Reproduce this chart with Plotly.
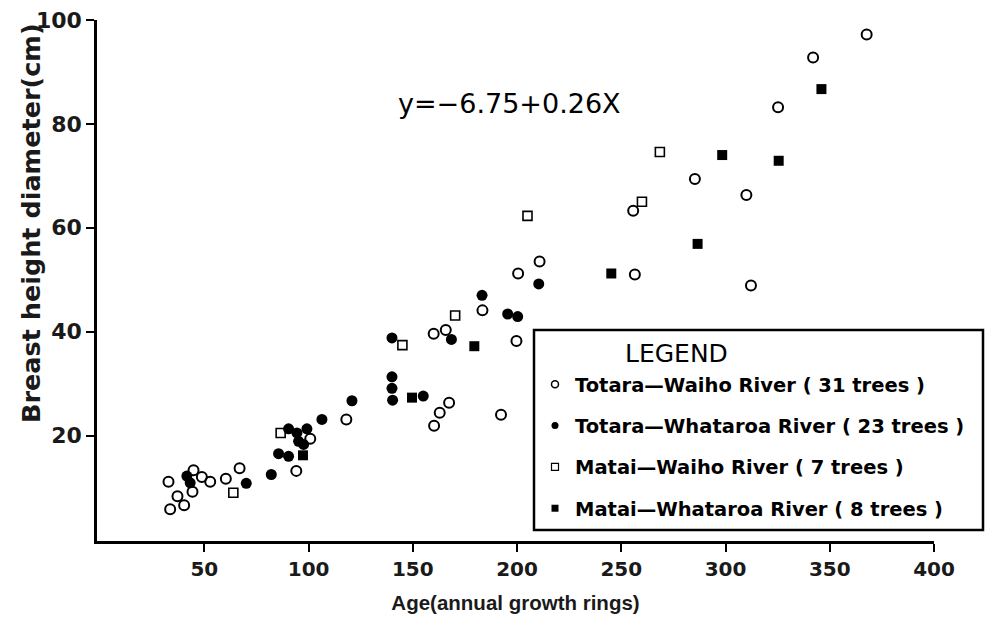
import plotly.graph_objects as go

# Totara - Waiho River (open circles)
tw_age = [32.8, 37.1, 33.6, 40.3, 44.8, 48.8, 44.3, 52.8, 60.3, 66.9, 94.1, 100.8,
          118.1, 167.4, 162.9, 160.2, 160.0, 165.8, 183.4, 199.7, 192.3, 200.5, 210.8,
          255.7, 256.5, 285.3, 310.0, 312.2, 325.2, 342.0, 367.7]
tw_dbh = [11.1, 8.3, 5.8, 6.6, 13.3, 12.0, 9.2, 11.1, 11.7, 13.7, 13.2, 19.4,
          23.1, 26.3, 24.4, 21.9, 39.6, 40.3, 44.1, 38.2, 24.0, 51.2, 53.5,
          63.3, 51.0, 69.4, 66.3, 48.9, 83.2, 92.8, 97.2]

# Totara - Whataroa River (filled circles)
twh_age = [41.6, 43.2, 70.1, 82.1, 85.6, 90.4, 90.4, 94.4, 99.2, 95.2, 97.6, 106.4,
           120.8, 140.0, 140.0, 140.0, 140.3, 155.0, 168.5, 183.2, 195.5, 200.3, 210.4]
twh_dbh = [12.2, 10.9, 10.8, 12.5, 16.5, 16.0, 21.3, 20.5, 21.3, 18.9, 18.3, 23.1,
           26.7, 38.8, 31.3, 29.1, 26.8, 27.6, 38.5, 47.0, 43.4, 42.9, 49.2]

# Matai - Waiho River (open squares)
mw_age = [63.9, 86.6, 145.0, 170.3, 205.0, 259.9, 268.5]
mw_dbh = [9.0, 20.5, 37.4, 43.1, 62.3, 65.0, 74.6]

# Matai - Whataroa River (filled squares)
mwh_age = [97.3, 149.6, 179.5, 245.2, 286.6, 298.4, 325.5, 346.0]
mwh_dbh = [16.2, 27.3, 37.2, 51.2, 56.9, 74.0, 72.9, 86.7]

series_names = ["Totara—Waiho River ( 31 trees )",
                "Totara—Whataroa River ( 23 trees )",
                "Matai—Waiho River ( 7 trees )",
                "Matai—Whataroa River ( 8 trees )"]
x_ticks = [50, 100, 150, 200, 250, 300, 350, 400]
y_ticks = [20, 40, 60, 80, 100]
equation = "y=−6.75+0.26X"
x_title = "Age(annual growth rings)"
y_title = "Breast height diameter(cm)"

fig = go.Figure()

styles = [
    dict(symbol="circle-open", size=10, color="black", line=dict(width=2, color="black")),
    dict(symbol="circle", size=11, color="black"),
    dict(symbol="square-open", size=9, color="black", line=dict(width=1.6, color="black")),
    dict(symbol="square", size=10, color="black"),
]
data = [(tw_age, tw_dbh), (twh_age, twh_dbh), (mw_age, mw_dbh), (mwh_age, mwh_dbh)]

for (xs, ys), st, name in zip(data, styles, series_names):
    fig.add_trace(go.Scatter(x=xs, y=ys, mode="markers", marker=st, name=name,
                             showlegend=False, cliponaxis=False))

legend_styles = [
    dict(symbol="circle-open", size=7, color="black", line=dict(width=1.5, color="black")),
    dict(symbol="circle", size=7, color="black"),
    dict(symbol="square-open", size=7, color="black", line=dict(width=1.2, color="black")),
    dict(symbol="square", size=7, color="black"),
]
for i, (st, name) in enumerate(zip(legend_styles, series_names)):
    fig.add_trace(go.Scatter(x=[None], y=[None], mode="markers", marker=st, name=name,
                             legendgroup=f"g{i}", showlegend=True))

# plot area: x px 97..934, y px 20..541 (985x618)
L, R, T, B = 97, 51, 20, 77
W = 985 - L - R
H = 618 - T - B

def px2paper(px, py):
    return (px - L) / W, (618 - B - py) / H

bx0, by0 = px2paper(534, 530)
bx1, by1 = px2paper(983, 330)
fig.add_shape(type="rect", xref="paper", yref="paper", x0=bx0, y0=by0, x1=bx1, y1=by1,
              line=dict(color="black", width=2.5), fillcolor="white", layer="above")

lgx, lgy = px2paper(676, 353)
fig.add_annotation(xref="paper", yref="paper", x=lgx, y=lgy, text="LEGEND", showarrow=False,
                   xanchor="center", yanchor="middle",
                   font=dict(family="DejaVu Sans", size=25, color="black"))

fig.add_annotation(x=196.5, y=84, text=equation, showarrow=False, xanchor="center",
                   font=dict(family="DejaVu Sans", size=27, color="black"))

ytx, yty = px2paper(31, 223)
fig.add_annotation(xref="paper", yref="paper", x=ytx, y=yty, text=y_title, showarrow=False,
                   textangle=-90, xanchor="center", yanchor="middle",
                   font=dict(family="DejaVu Sans", size=25.5, color="#1a1a1a", weight="bold"))

lx, ly = px2paper(535, 365)
fig.update_layout(
    width=985, height=618,
    margin=dict(l=L, r=R, t=T, b=B),
    paper_bgcolor="white", plot_bgcolor="white",
    showlegend=True,
    legend=dict(x=lx, y=ly, xanchor="left", yanchor="top", bgcolor="rgba(0,0,0,0)",
                borderwidth=0,
                font=dict(family="DejaVu Sans", size=19.5, color="black", weight="bold"),
                tracegroupgap=13, traceorder="grouped"),
    xaxis=dict(range=[-1.5, 400], tickvals=x_ticks, ticks="outside", ticklen=8, tickwidth=2,
               tickcolor="black", showline=True, linecolor="black", linewidth=2.5,
               showgrid=False, zeroline=False,
               tickfont=dict(family="DejaVu Sans", size=20, color="#1a1a1a", weight="bold"),
               title=dict(text=x_title, standoff=16,
                          font=dict(family="Liberation Sans", size=20.5,
                                    color="#1a1a1a", weight="bold")),
               automargin=False),
    yaxis=dict(range=[-0.3, 100], tickvals=y_ticks, ticks="outside", ticklen=8, tickwidth=2,
               tickcolor="black", showline=True, linecolor="black", linewidth=2.5,
               showgrid=False, zeroline=False,
               tickfont=dict(family="DejaVu Sans", size=22, color="#1a1a1a", weight="bold"),
               automargin=False),
)

fig.write_html("out.html", config={"displayModeBar": False},
               post_script="document.body.style.margin='0px';")
